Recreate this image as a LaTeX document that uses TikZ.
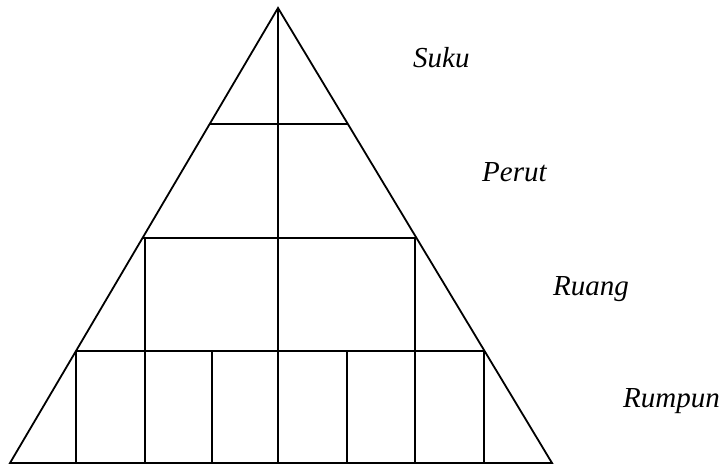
\documentclass[tikz,border=0pt]{standalone}
\usepackage{fontspec}
\setmainfont{Liberation Serif}
\usetikzlibrary{calc}
\begin{document}
\begin{tikzpicture}[x=1pt,y=-1pt,
  edge/.style={line width=1.8pt,line join=miter},
  lbl/.style={anchor=base west,inner sep=0pt,font=\fontsize{29}{32}\selectfont\itshape}]
\useasboundingbox (0,0) rectangle (722,465);
\coordinate (A) at (278,8);
\coordinate (L) at (10,463);
\coordinate (R) at (552,463);
\draw[edge] (L) -- (A) -- (R) -- cycle;
% horizontal levels
\draw[edge] ($(A)!{116/455}!(L)$) -- ($(A)!{116/455}!(R)$);
\draw[edge] ($(A)!{230/455}!(L)$) -- ($(A)!{230/455}!(R)$);
\draw[edge] ($(A)!{343/455}!(L)$) -- ($(A)!{343/455}!(R)$);
% centre vertical
\draw[edge] (A) -- (278,463);
% Ruang verticals
\draw[edge] (145,238) -- (145,463);
\draw[edge] (415,238) -- (415,463);
% Rumpun verticals
\draw[edge] (76,351) -- (76,463);
\draw[edge] (484,351) -- (484,463);
\draw[edge] (212,351) -- (212,463);
\draw[edge] (347,351) -- (347,463);
% labels
\node[lbl] (suku) at (413,68) {Suku};
\node[lbl] (perut) at (482,182) {Perut};
\node[lbl] (ruang) at (553,295) {Ruang};
\node[lbl] (rumpun) at (623,407) {Rumpun};
\end{tikzpicture}
\end{document}
